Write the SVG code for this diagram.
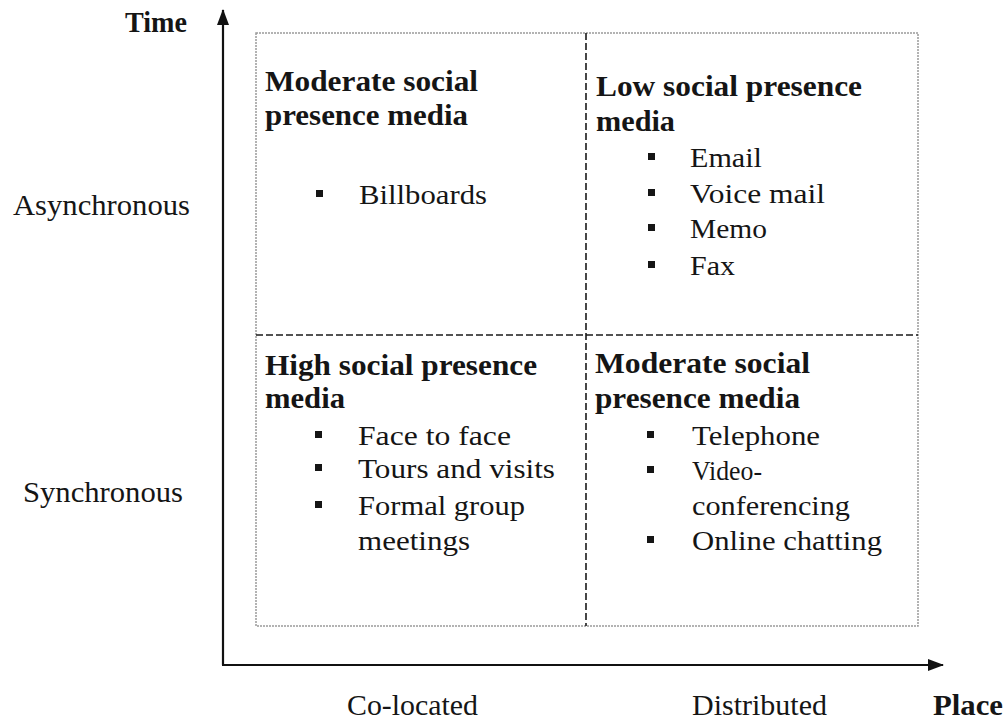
<svg xmlns="http://www.w3.org/2000/svg" width="1003" height="720" viewBox="0 0 1003 720">
<defs>
<style>
text{font-family:"Liberation Serif","Times New Roman",serif;fill:#151515;}
.h{font-weight:bold;font-size:29px;}
.i{font-size:27px;}
.ax{font-size:29px;}
.b{fill:#151515;}
.frame{fill:none;stroke:#9a9a9a;stroke-width:1.5;stroke-dasharray:2,1;}
.div{fill:none;stroke:#1a1a1a;stroke-width:1.6;stroke-dasharray:7,3;}
.axis{fill:none;stroke:#111;stroke-width:2.2;}
</style>
<marker id="arr" viewBox="0 0 16 12" refX="15" refY="6" markerWidth="16" markerHeight="12" markerUnits="userSpaceOnUse" orient="auto">
<path d="M0,0 L16,6 L0,12 Z" fill="#111"/>
</marker>
</defs>
<rect width="1003" height="720" fill="#fff"/>

<g id="grid">
<rect class="frame" x="256" y="33" width="662" height="593"/>
<line class="div" x1="586" y1="33" x2="586" y2="626"/>
<line class="div" x1="256" y1="335" x2="918" y2="335"/>
</g>

<g id="connectors">
<line class="axis" x1="223" y1="665" x2="223" y2="10" marker-end="url(#arr)"/>
<line class="axis" x1="222" y1="665" x2="943" y2="665" marker-end="url(#arr)"/>
</g>

<g id="q-top-left">
<text class="h" x="265" y="91" textLength="213" lengthAdjust="spacingAndGlyphs">Moderate social</text>
<text class="h" x="265" y="125" textLength="203" lengthAdjust="spacingAndGlyphs">presence media</text>
<rect class="b" x="316" y="190" width="7" height="7"/>
<text class="i" x="359" y="204" textLength="128" lengthAdjust="spacingAndGlyphs">Billboards</text>
</g>

<g id="q-top-right">
<text class="h" x="596" y="96" textLength="266" lengthAdjust="spacingAndGlyphs">Low social presence</text>
<text class="h" x="596" y="131" textLength="79" lengthAdjust="spacingAndGlyphs">media</text>
<rect class="b" x="648" y="153" width="7" height="7"/>
<text class="i" x="690" y="167" textLength="72" lengthAdjust="spacingAndGlyphs">Email</text>
<rect class="b" x="648" y="189" width="7" height="7"/>
<text class="i" x="690" y="203" textLength="135" lengthAdjust="spacingAndGlyphs">Voice mail</text>
<rect class="b" x="648" y="224" width="7" height="7"/>
<text class="i" x="690" y="238" textLength="77" lengthAdjust="spacingAndGlyphs">Memo</text>
<rect class="b" x="648" y="261" width="7" height="7"/>
<text class="i" x="690" y="275" textLength="45" lengthAdjust="spacingAndGlyphs">Fax</text>
</g>

<g id="q-bottom-left">
<text class="h" x="265" y="375" textLength="272" lengthAdjust="spacingAndGlyphs">High social presence</text>
<text class="h" x="265" y="408" textLength="80" lengthAdjust="spacingAndGlyphs">media</text>
<rect class="b" x="315" y="431" width="7" height="7"/>
<text class="i" x="358" y="445" textLength="153" lengthAdjust="spacingAndGlyphs">Face to face</text>
<rect class="b" x="315" y="464" width="7" height="7"/>
<text class="i" x="358" y="478" textLength="197" lengthAdjust="spacingAndGlyphs">Tours and visits</text>
<rect class="b" x="315" y="501" width="7" height="7"/>
<text class="i" x="358" y="515" textLength="167" lengthAdjust="spacingAndGlyphs">Formal group</text>
<text class="i" x="358" y="550" textLength="112" lengthAdjust="spacingAndGlyphs">meetings</text>
</g>

<g id="q-bottom-right">
<text class="h" x="595" y="373" textLength="215" lengthAdjust="spacingAndGlyphs">Moderate social</text>
<text class="h" x="595" y="408" textLength="205" lengthAdjust="spacingAndGlyphs">presence media</text>
<rect class="b" x="647" y="431" width="7" height="7"/>
<text class="i" x="692" y="445" textLength="128" lengthAdjust="spacingAndGlyphs">Telephone</text>
<rect class="b" x="647" y="466" width="7" height="7"/>
<text class="i" x="692" y="480" textLength="70" lengthAdjust="spacingAndGlyphs">Video-</text>
<text class="i" x="692" y="515" textLength="158" lengthAdjust="spacingAndGlyphs">conferencing</text>
<rect class="b" x="647" y="536" width="7" height="7"/>
<text class="i" x="692" y="550" textLength="190" lengthAdjust="spacingAndGlyphs">Online chatting</text>
</g>

<g id="axis-labels">
<text class="h" x="125" y="32" textLength="62" lengthAdjust="spacingAndGlyphs">Time</text>
<text class="ax" x="13" y="215" textLength="177" lengthAdjust="spacingAndGlyphs">Asynchronous</text>
<text class="ax" x="23" y="502" textLength="160" lengthAdjust="spacingAndGlyphs">Synchronous</text>
<text class="ax" x="347" y="715" textLength="131" lengthAdjust="spacingAndGlyphs">Co-located</text>
<text class="ax" x="692" y="715" textLength="135" lengthAdjust="spacingAndGlyphs">Distributed</text>
<text class="h" x="933" y="715" textLength="70" lengthAdjust="spacingAndGlyphs">Place</text>
</g>
</svg>
